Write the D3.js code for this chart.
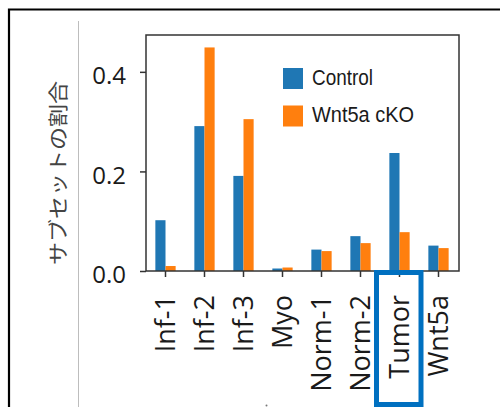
<!DOCTYPE html>
<html>
<head>
<meta charset="utf-8">
<script src="https://cdn.jsdelivr.net/npm/d3@7"></script>
<style>
  body { margin: 0; background: #fff; }
  svg { display: block; }
  .tick line { stroke: #333; stroke-width: 1.5; }
</style>
</head>
<body>
<svg id="chart" width="500" height="407"></svg>
<script>
// data
var categories = ["Inf-1", "Inf-2", "Inf-3", "Myo", "Norm-1", "Norm-2", "Tumor", "Wnt5a"];
var control = [0.102, 0.291, 0.191, 0.005, 0.043, 0.070, 0.237, 0.051];
var wnt5aCKO = [0.010, 0.449, 0.305, 0.007, 0.040, 0.056, 0.078, 0.046];
var seriesNames = ["Control", "Wnt5a cKO"];
var seriesColors = ["#1f77b4", "#ff7f0e"];
var yTicks = [0, 0.2, 0.4];
var yLabel = "サブセットの割合";

var svg = d3.select("#chart");

// outer frame (top + left edges only visible)
svg.append("path")
  .attr("d", "M9,407 V9.5 H500")
  .attr("fill", "none")
  .attr("stroke", "#000")
  .attr("stroke-width", 2.2);

// thin grey divider
svg.append("line")
  .attr("x1", 78.5).attr("x2", 78.5)
  .attr("y1", 21).attr("y2", 407)
  .attr("stroke", "#bdbdbd")
  .attr("stroke-width", 1);

var pLeft = 146, pRight = 459, pTop = 35, pBottom = 271;

var x = d3.scaleBand()
  .domain(categories)
  .range([pLeft, pRight - 1])
  .padding(0);

var y = d3.scaleLinear()
  .domain([0, 0.474])
  .range([pBottom, pTop]);

var barW = x.bandwidth() * 0.26;
var series = [control, wnt5aCKO];

series.forEach(function(vals, s) {
  svg.append("g").selectAll("rect")
    .data(vals)
    .enter().append("rect")
    .attr("x", function(d, i) { return x(categories[i]) + x.bandwidth() / 2 + (s - 1) * barW; })
    .attr("y", function(d) { return y(d); })
    .attr("width", barW)
    .attr("height", function(d) { return y(0) - y(d); })
    .attr("fill", seriesColors[s]);
});

// y axis
var gy = svg.append("g")
  .attr("transform", "translate(" + pLeft + ",0)")
  .call(d3.axisLeft(y).tickValues(yTicks).tickFormat(d3.format(".1f")).tickSize(6).tickPadding(14));
gy.select(".domain").remove();
gy.selectAll("text")
  .attr("dy", "0.49em")
  .style("font-family", "'Open Sans', sans-serif")
  .style("font-size", "24px")
  .attr("fill", "#1a1a1a");

// x axis
var gx = svg.append("g")
  .attr("transform", "translate(0," + pBottom + ")")
  .call(d3.axisBottom(x).tickSize(6));
gx.select(".domain").remove();
gx.selectAll("text")
  .attr("transform", "rotate(-90)")
  .attr("x", -24)
  .attr("y", 9.5)
  .attr("dy", 0)
  .attr("text-anchor", "end")
  .style("font-family", "'Open Sans', sans-serif")
  .style("font-size", "27px")
  .attr("fill", "#1a1a1a");

// spines
svg.append("rect")
  .attr("x", pLeft).attr("y", pTop)
  .attr("width", pRight - pLeft).attr("height", pBottom - pTop)
  .attr("fill", "none")
  .attr("stroke", "#333")
  .attr("stroke-width", 1.5);

// legend
var legend = svg.append("g");
var legendText = [61, 102];
seriesNames.forEach(function(name, i) {
  var ly = 68 + i * 37.5;
  legend.append("rect")
    .attr("x", 283).attr("y", ly)
    .attr("width", 20).attr("height", 21)
    .attr("fill", seriesColors[i]);
  legend.append("text")
    .attr("x", 312).attr("y", ly + 16.5)
    .attr("textLength", legendText[i])
    .attr("lengthAdjust", "spacingAndGlyphs")
    .style("font-family", "'Liberation Sans', Arial, sans-serif")
    .style("font-size", "22px")
    .attr("fill", "#1a1a1a")
    .text(name);
});

// y label
svg.append("text")
  .attr("transform", "translate(65.5,173) rotate(-90)")
  .attr("text-anchor", "middle")
  .attr("textLength", 184)
  .attr("lengthAdjust", "spacingAndGlyphs")
  .style("font-family", "'Noto Sans CJK JP', sans-serif")
  .style("font-size", "20px")
  .attr("fill", "#444")
  .text(yLabel);

// highlight box around Tumor label
var tx = x("Tumor") + x.bandwidth() / 2;
svg.append("rect")
  .attr("x", tx - 23).attr("y", 272.5)
  .attr("width", 44.5).attr("height", 132)
  .attr("fill", "none")
  .attr("stroke", "#0070c0")
  .attr("stroke-width", 5);

// stray dot at the bottom
svg.append("circle")
  .attr("cx", 266.5).attr("cy", 405.5).attr("r", 1)
  .attr("fill", "#777");
</script>
</body>
</html>
